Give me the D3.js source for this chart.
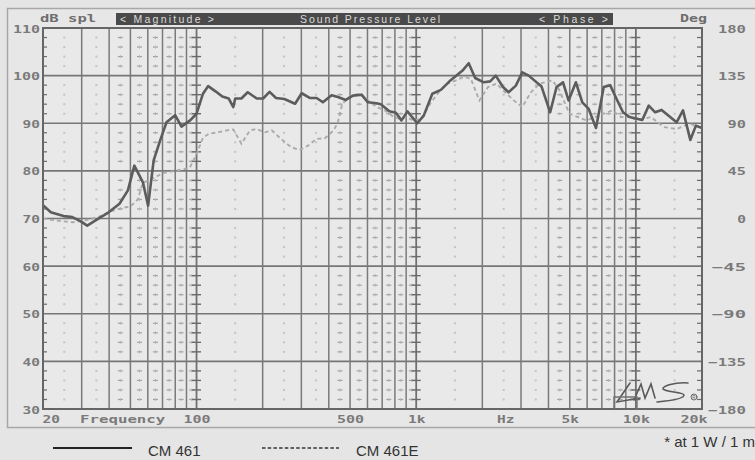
<!DOCTYPE html>
<html><head><meta charset="utf-8">
<script src="https://cdn.jsdelivr.net/npm/d3@7"></script>
<style>body{margin:0;background:#e5e5e5;} svg{display:block}</style>
</head><body><svg id="c" width="755" height="460"></svg>
<script>
// ---- data ----
const freqSolid = [20,21.7,24.8,27.2,29.7,31.8,35.6,39.8,44.6,48.7,52.1,57,60.2,63.8,68.3,73,79.9,85.4,93.5,100,107,113,122,131,140,147,150,160,171,188,201,215,230,251,281,301,329,352,376,412,440,478,515,564,603,660,690,755,808,857,912,1011,1082,1184,1295,1417,1621,1734,1855,2030,2171,2301,2484,2633,2842,3040,3252,3721,4072,4355,4659,4940,5333,5703,6100,6584,7140,7637,8170,8738,9349,10698,11443,12240,13093,14325,15322,16388,17693,18760,20000];
const dbSolid = [72.8,71.3,70.5,70.3,69.4,68.5,69.9,71.3,73.1,75.9,81.1,77.6,72.7,82.2,86.4,90.2,91.7,89.3,90.6,92,96.2,97.8,96.7,95.6,95.2,93.4,95.2,95.2,96.5,95.2,95.2,96.6,95.3,95.1,94.1,96.3,95.3,95.3,94.4,95.9,95.5,94.9,95.8,96,94.4,94.2,94,92.5,92.2,90.6,92.5,90,91.6,96.2,97,98.8,101,102.6,99.5,98.6,98.8,100,97.6,96.5,97.9,100.7,100,97.7,92.3,97.6,98.6,94.8,98.6,94.4,93,89,97.6,98,95.1,92.3,91.3,90.7,93.7,92.3,92.8,91.3,90.2,92.7,86.5,89.5,89];
const freqDashed = [20,22.7,27.2,31,35.6,40.7,46.6,50,54,57,65,70,84,93,100,107,114,125,137,147,160,175,188,205,220,240,269,294,322,352,385,421,440,461,504,551,603,660,722,790,845,904,967,1058,1157,1266,1385,1516,1658,1774,1940,2122,2322,2540,2780,3040,3327,3640,4164,4455,4985,5453,5965,6525,7140,7810,8542,9349,10228,11707,13395,15322,17534,20000];
const dbDashed = [70,69.6,69.2,69.6,70.3,71.5,72.3,72.5,74,77.5,78.7,79.5,80.2,80.6,83.5,87,87.8,88.1,88.5,88.7,85.7,88.5,88.8,88.1,88.5,86.9,85,84.4,85.3,86.7,86.9,88.5,90.2,94.1,95.8,96.2,94.8,93.4,92.7,91.3,90.9,91.3,90.6,90.9,94.1,96.5,98.3,99,99.8,99.3,94.8,97.6,98.3,96.5,94.8,93.4,96.5,98.3,99,97.2,92,91.3,90.6,91.3,92,92.7,91.3,91.3,90.6,91.3,89.2,88.8,89.9,89];
const dbTicks = [30,40,50,60,70,80,90,100,110];
const phaseTicks = [-180,-135,-90,-45,0,45,90,135,180];
const freqTickValues = [20,100,500,1000,5000,10000,20000];
const freqTickLabels = ["20","100","500","1k","5k","10k","20k"];
const seriesNames = ["CM 461","CM 461E"];

// ---- layout ----
const svg = d3.select("#c");
const L = 43, R = 702, T = 28, B = 409;
const x = d3.scaleLog().domain([20,20000]).range([L,R]);
const y = d3.scaleLinear().domain([30,110]).range([B,T]);
const yR = d3.scaleLinear().domain([-180,180]).range([B,T]);
const MONO = "'DejaVu Sans Mono', monospace";
const CW = 9.7; // character cell width for the wide bitmap-like font

svg.append("rect").attr("width",755).attr("height",460).attr("fill","#e5e5e5");
svg.append("rect").attr("x",7.5).attr("y",8.5).attr("width",760).attr("height",419)
  .attr("fill","#e7e7e7").attr("stroke","#a8a8a8").attr("stroke-width",1.5);
svg.append("rect").attr("x",L).attr("y",T).attr("width",R-L).attr("height",B-T).attr("fill","#e9e9e9");

function monoText(g, str, px, py, anchor, fill){
  const len = str.length*CW - 2;
  let sx = px;
  if(anchor==="end") sx = px - len;
  if(anchor==="middle") sx = px - len/2;
  return g.append("text").attr("x",sx).attr("y",py).text(str)
    .attr("font-family",MONO).attr("font-weight","bold").attr("font-size",11)
    .attr("fill",fill||"#7a7a7a").attr("textLength",len).attr("lengthAdjust","spacingAndGlyphs");
}

// header bar
svg.append("rect").attr("x",116).attr("y",13).attr("width",497).attr("height",12).attr("fill","#4a4a4a");
const hdr = [["< Magnitude >",120,94],["Sound Pressure Level",300,140],["< Phase >",539,69]];
hdr.forEach(h=>{
  svg.append("text").attr("x",h[1]).attr("y",23).text(h[0])
    .attr("font-family","'Liberation Sans', Arial, sans-serif").attr("font-size",10.5)
    .attr("fill","#dcdcdc").attr("textLength",h[2]).attr("lengthAdjust","spacing");
});
monoText(svg,"dB spl",40,22,"start","#6e6e6e");
monoText(svg,"Deg",680,22,"start","#6e6e6e");

// ---- grid ----
const grid = svg.append("g");
const solidV = [];
[10,100,1000].forEach(dec=>{ for(let m=2;m<=9;m++){ const f=m*dec; if(f>20 && f<20000) solidV.push(f);} });
const decades = [100,1000,10000];
const dotV = [];
[10,100,1000,10000].forEach(dec=>{ for(let m=1;m<=9;m++){ const f=(m+0.5)*dec; if(f>20 && f<20000) dotV.push({f, faint: m<=3}); } });
const minor = d3.range(32,110,2).filter(v=>v%10!==0);

// dotted columns
dotV.forEach(d=>{
  const cx = x(d.f);
  minor.forEach(v=>{
    if(d.faint){
      grid.append("rect").attr("x",cx-1).attr("y",y(v)-1).attr("width",2).attr("height",2).attr("fill","#c4c4c4");
    } else {
      grid.append("line").attr("x1",cx-2.5).attr("x2",cx+2.5).attr("y1",y(v)).attr("y2",y(v)).attr("stroke","#a2a2a2").attr("stroke-width",1.2);
      grid.append("line").attr("x1",cx).attr("x2",cx).attr("y1",y(v)-1.5).attr("y2",y(v)+1.5).attr("stroke","#b6b6b6").attr("stroke-width",1);
    }
  });
});

// horizontal grid
dbTicks.filter(v=>v>30 && v<110).forEach(v=>{
  grid.append("line").attr("x1",L).attr("x2",R).attr("y1",y(v)).attr("y2",y(v)).attr("stroke","#767676").attr("stroke-width",1.6);
});
// vertical grid
solidV.forEach(f=>{
  grid.append("line").attr("x1",x(f)).attr("x2",x(f)).attr("y1",T).attr("y2",B).attr("stroke","#7a7a7a").attr("stroke-width",1.5);
});
decades.forEach(f=>{
  grid.append("line").attr("x1",x(f)).attr("x2",x(f)).attr("y1",T).attr("y2",B).attr("stroke","#707070").attr("stroke-width",1.8);
  minor.forEach(v=>{
    grid.append("line").attr("x1",x(f)-4.5).attr("x2",x(f)+4.5).attr("y1",y(v)).attr("y2",y(v)).attr("stroke","#6a6a6a").attr("stroke-width",1.4);
  });
});
// border minor ticks
minor.forEach(v=>{
  grid.append("line").attr("x1",L).attr("x2",L+4).attr("y1",y(v)).attr("y2",y(v)).attr("stroke","#6a6a6a").attr("stroke-width",1.2);
  grid.append("line").attr("x1",R-5).attr("x2",R).attr("y1",y(v)).attr("y2",y(v)).attr("stroke","#6a6a6a").attr("stroke-width",1.2);
});

// ---- curves ----
const line = d3.line().x(d=>x(d[0])).y(d=>y(d[1]));
svg.append("path").datum(freqDashed.map((f,i)=>[f,dbDashed[i]])).attr("d",line)
  .attr("fill","none").attr("stroke","#ababab").attr("stroke-width",1.9).attr("stroke-dasharray","4,3");
svg.append("path").datum(freqSolid.map((f,i)=>[f,dbSolid[i]])).attr("d",line)
  .attr("fill","none").attr("stroke","#5c5c5c").attr("stroke-width",2.6).attr("stroke-linejoin","round");

// plot border
svg.append("rect").attr("x",L).attr("y",T).attr("width",R-L).attr("height",B-T)
  .attr("fill","none").attr("stroke","#666").attr("stroke-width",2);

// IMS logo
const logo = svg.append("g").attr("fill","none").attr("stroke","#5a5a5a").attr("stroke-width",1.6).attr("stroke-linecap","round");
logo.append("path").attr("d","M630,383 L617,402 L640,398");
logo.append("path").attr("d","M634,400 L641,384 L645,398 L651,384 L655,398");
logo.append("path").attr("d","M688,383 C675,382 662,386 663,389 C665,392 684,392 684,395 C684,399 668,401 657,402");
logo.append("circle").attr("cx",694).attr("cy",397).attr("r",3).attr("stroke-width",0.9);
svg.append("text").attr("x",692.3).attr("y",399).text("R").attr("font-size",4.5).attr("font-family","sans-serif").attr("fill","#5a5a5a");
logo.append("path").attr("d","M614,409 L614,397 L637,397 L637,409").attr("stroke-width",1.4).attr("stroke","#707070");

// ---- axes ----
function styleMono(sel, len){
  sel.attr("font-family",MONO).attr("font-weight","bold").attr("font-size",11).attr("fill","#7a7a7a")
     .attr("textLength",len).attr("lengthAdjust","spacingAndGlyphs");
}
const axL = svg.append("g").attr("transform",`translate(${L},0)`)
  .call(d3.axisLeft(y).tickValues(dbTicks).tickSize(0).tickPadding(3));
axL.select(".domain").remove();
axL.selectAll("text").each(function(d){
  const s=String(d); const len=s.length*CW-2;
  const t=d3.select(this).attr("text-anchor","start").attr("x",-3-len).attr("dy",null).attr("y",4);
  styleMono(t,len);
});
const axR = svg.append("g").attr("transform",`translate(${R},0)`)
  .call(d3.axisRight(yR).tickValues(phaseTicks).tickSize(0).tickPadding(6));
axR.select(".domain").remove();
axR.selectAll("text").each(function(d){
  const s=String(d); const len=(d<0 && s.length===3)? 34 : s.length*CW-1;
  const t=d3.select(this).attr("text-anchor","start").attr("x",746-R-len).attr("dy",null).attr("y",4);
  styleMono(t,len);
});
const axB = svg.append("g").attr("transform",`translate(0,${B})`)
  .call(d3.axisBottom(x).tickValues(freqTickValues).tickSize(0).tickPadding(0).tickFormat((d,i)=>freqTickLabels[i]));
axB.select(".domain").remove();
axB.selectAll("text").each(function(d,i){
  const s=freqTickLabels[i]; const len=s.length*CW-2;
  let off = -len/2;
  if(i===0) off = -1;
  if(i===freqTickLabels.length-1) off = 5-len;
  const t=d3.select(this).attr("text-anchor","start").attr("x",off).attr("dy",null).attr("y",14);
  styleMono(t,len);
});
monoText(svg,"Frequency",80,423,"start");
monoText(svg,"Hz",497,423,"start");

// ---- legend ----
const leg = svg.append("g");
leg.append("line").attr("x1",53).attr("x2",132).attr("y1",448).attr("y2",448).attr("stroke","#222").attr("stroke-width",2);
leg.append("text").attr("x",148).attr("y",456).text(seriesNames[0]).attr("font-family","'Liberation Sans', Arial, sans-serif").attr("font-size",15).attr("fill","#333");
leg.append("line").attr("x1",262).attr("x2",339).attr("y1",448).attr("y2",448).attr("stroke","#333").attr("stroke-width",1.6).attr("stroke-dasharray","3.5,2.2");
leg.append("text").attr("x",356).attr("y",456).text(seriesNames[1]).attr("font-family","'Liberation Sans', Arial, sans-serif").attr("font-size",15).attr("fill","#333");
svg.append("text").attr("x",755).attr("y",447).attr("text-anchor","end").text("* at 1 W / 1 m")
  .attr("font-family","'Liberation Sans', Arial, sans-serif").attr("font-size",15).attr("fill","#333");
</script></body></html>
